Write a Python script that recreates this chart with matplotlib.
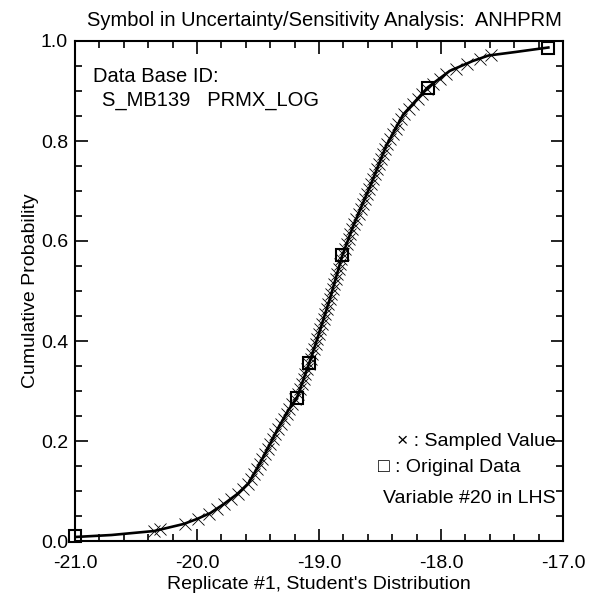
import numpy as np
import matplotlib.pyplot as plt
from matplotlib.ticker import MultipleLocator, FormatStrFormatter

plt.rcParams['font.family'] = ['Liberation Sans', 'DejaVu Sans']
plt.rcParams['axes.unicode_minus'] = False

# fitted cumulative curve
curve_x = [-21.0, -20.7, -20.35, -20.11, -20.0, -19.89, -19.78, -19.67, -19.58,
           -19.52, -19.47, -19.41, -19.33, -19.25, -19.18, -19.08, -19.02, -18.91,
           -18.81, -18.72, -18.58, -18.45, -18.31, -18.11, -17.93, -17.74, -17.61,
           -17.39, -17.12]
curve_y = [0.008, 0.012, 0.020, 0.034, 0.044, 0.056, 0.074, 0.094, 0.115,
           0.140, 0.162, 0.190, 0.228, 0.262, 0.287, 0.356, 0.400, 0.485,
           0.570, 0.630, 0.710, 0.790, 0.853, 0.907, 0.940, 0.960, 0.971,
           0.978, 0.987]

# original data (squares)
orig_x = [-21.0, -19.18, -19.08, -18.81, -18.11, -17.12]
orig_y = [0.010, 0.287, 0.356, 0.572, 0.907, 0.987]

# LHS sampled values (x marks)
samp_x = [-20.35, -20.30, -20.10, -19.99, -19.90, -19.835, -19.775, -19.72, -19.666,
          -19.623, -19.58, -19.556, -19.532, -19.509, -19.486, -19.464, -19.442,
          -19.421, -19.399, -19.378, -19.357, -19.336, -19.314, -19.29, -19.266,
          -19.243, -19.218, -19.193, -19.172, -19.157, -19.142, -19.127, -19.112,
          -19.097, -19.082, -19.068, -19.054, -19.041, -19.027, -19.014, -19.001,
          -18.988, -18.975, -18.962, -18.949, -18.936, -18.923, -18.91, -18.898,
          -18.886, -18.875, -18.863, -18.851, -18.839, -18.828, -18.816, -18.803,
          -18.788, -18.773, -18.758, -18.743, -18.728, -18.711, -18.694, -18.676,
          -18.659, -18.641, -18.624, -18.606, -18.589, -18.572, -18.556, -18.539,
          -18.523, -18.507, -18.491, -18.474, -18.458, -18.439, -18.417, -18.394,
          -18.372, -18.35, -18.328, -18.303, -18.266, -18.229, -18.191, -18.154,
          -18.117, -18.066, -18.012, -17.957, -17.88, -17.79, -17.68, -17.59]
samp_y = [0.020, 0.025, 0.035, 0.045, 0.055, 0.065, 0.075, 0.085, 0.095,
          0.105, 0.115, 0.125, 0.135, 0.145, 0.155, 0.165, 0.175,
          0.185, 0.195, 0.205, 0.215, 0.225, 0.235, 0.245, 0.255,
          0.265, 0.275, 0.285, 0.295, 0.305, 0.315, 0.325, 0.335,
          0.345, 0.355, 0.365, 0.375, 0.385, 0.395, 0.405, 0.415,
          0.425, 0.435, 0.445, 0.455, 0.465, 0.475, 0.485, 0.495,
          0.505, 0.515, 0.525, 0.535, 0.545, 0.555, 0.565, 0.575,
          0.585, 0.595, 0.605, 0.615, 0.625, 0.635, 0.645, 0.655,
          0.665, 0.675, 0.685, 0.695, 0.705, 0.715, 0.725, 0.735,
          0.745, 0.755, 0.765, 0.775, 0.785, 0.795, 0.805, 0.815,
          0.825, 0.835, 0.845, 0.855, 0.865, 0.875, 0.885, 0.895,
          0.905, 0.915, 0.925, 0.935, 0.945, 0.955, 0.965, 0.972]

fig = plt.figure(figsize=(5.99, 6.01), dpi=100)
ax = fig.add_axes([75 / 599, 60 / 601, 488 / 599, 500 / 601])

ax.plot(curve_x, curve_y, color='black', lw=1.9, zorder=3)
ax.plot(samp_x, samp_y, ls='none', marker='x', ms=8, mew=0.6, color='black', zorder=2)
ax.plot(orig_x, orig_y, ls='none', marker='s', ms=8.5, mew=1.5, mfc='none', mec='black',
        zorder=4, clip_on=False)

ax.set_xlim(-21.0, -17.0)
ax.set_ylim(0.0, 1.0)
ax.xaxis.set_major_locator(MultipleLocator(1.0))
ax.xaxis.set_minor_locator(MultipleLocator(0.2))
ax.yaxis.set_major_locator(MultipleLocator(0.2))
ax.yaxis.set_minor_locator(MultipleLocator(0.05))
ax.xaxis.set_major_formatter(FormatStrFormatter('%.1f'))
ax.yaxis.set_major_formatter(FormatStrFormatter('%.1f'))
ax.tick_params(which='both', direction='in', top=True, right=True, width=1.2, labelsize=14)
ax.tick_params(which='major', length=9)
ax.tick_params(which='minor', length=5)
ax.tick_params(axis='x', pad=10)
ax.tick_params(axis='y', pad=5)
for s in ax.spines.values():
    s.set_linewidth(1.5)

ax.set_xlabel("Replicate #1, Student's Distribution", fontsize=14, labelpad=3)
ax.set_ylabel('Cumulative Probability', fontsize=14, labelpad=1)
fig.text(0.541, 0.966, 'Symbol in Uncertainty/Sensitivity Analysis:  ANHPRM',
         ha='center', va='center', fontsize=14.5)

ax.text(0.036, 0.93, 'Data Base ID:', transform=ax.transAxes, fontsize=14.5, va='center')
ax.text(0.055, 0.88, 'S_MB139   PRMX_LOG', transform=ax.transAxes, fontsize=14.5, va='center')

ax.text(0.985, 0.20, '\u00d7 : Sampled Value', transform=ax.transAxes, fontsize=14,
        ha='right', va='center')
ax.text(0.62, 0.147, '\u25a1 : Original Data', transform=ax.transAxes, fontsize=14,
        ha='left', va='center')
ax.text(0.985, 0.085, 'Variable #20 in LHS', transform=ax.transAxes, fontsize=14,
        ha='right', va='center')

fig.savefig('out.png', dpi=100)
